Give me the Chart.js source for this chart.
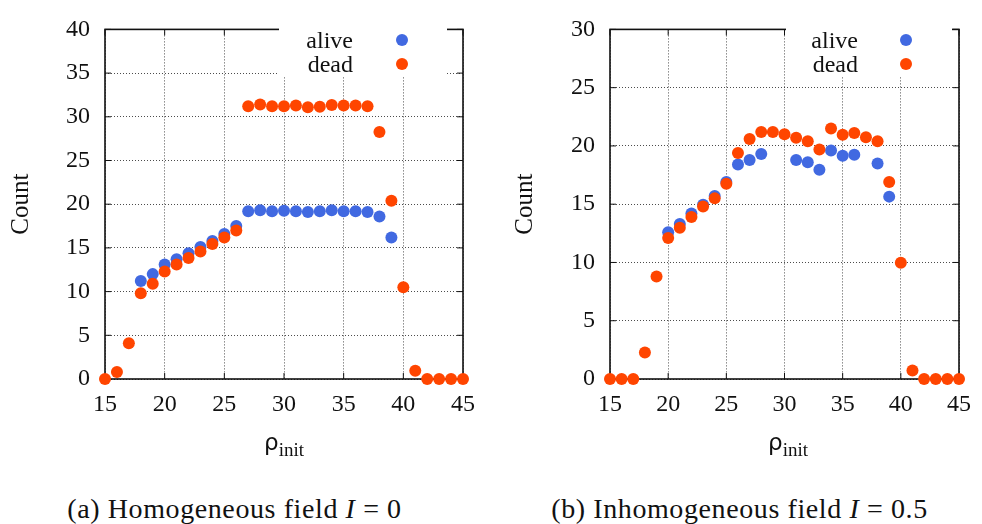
<!DOCTYPE html>
<html>
<head>
<meta charset="utf-8">
<script src="https://cdn.jsdelivr.net/npm/chart.js@4.4.1/dist/chart.umd.min.js"></script>
<style>
	body { margin: 0; width: 982px; height: 524px; background: #fff; position: relative; overflow: hidden; font-family: "Liberation Serif", serif; color: #111; }
	.panel { position: absolute; top: 0; width: 491px; height: 524px; }
	.panel canvas { position: absolute; top: 0; left: 0; }
	.legend { position: absolute; top: 23px; height: 53px; background: #fff; }
	.legend .row { position: absolute; left: 0; height: 24px; line-height: 24px; font-size: 24px; }
	.legend .lbl { position: absolute; text-align: right; width: 120px; }
	.legend .dot { position: absolute; width: 12px; height: 12px; border-radius: 6px; top: 6px; }
	.xtitle { position: absolute; top: 428px; font-size: 25px; width: 120px; text-align: center; }
	.xtitle .rho { font-family: "DejaVu Sans", sans-serif; font-size: 23px; }
	.xtitle sub { font-size: 19px; vertical-align: -6px; }
	.caption { position: absolute; top: 493px; font-size: 28px; letter-spacing: 0.6px; white-space: nowrap; width: 491px; text-align: center; }
</style>
</head>
<body>
<div class="panel" style="left:0">
	<canvas id="chartA" width="491" height="430"></canvas>
	<div class="legend" style="left:279px; width:168px">
		<div class="row" style="top:5px"><span class="lbl" style="left:-46px">alive</span><span class="dot" style="left:117px; background:#4169e1"></span></div>
		<div class="row" style="top:29px"><span class="lbl" style="left:-46px">dead</span><span class="dot" style="left:117px; background:#ff4500"></span></div>
	</div>
	<div class="xtitle" style="left:224px"><span class="rho">ρ</span><sub>init</sub></div>
	<div class="caption" style="left:-11px">(a) Homogeneous field <i>I</i> = 0</div>
</div>
<div class="panel" style="left:491px">
	<canvas id="chartB" width="491" height="430"></canvas>
	<div class="legend" style="left:295px; width:166px">
		<div class="row" style="top:5px"><span class="lbl" style="left:-48px">alive</span><span class="dot" style="left:114px; background:#4169e1"></span></div>
		<div class="row" style="top:29px"><span class="lbl" style="left:-48px">dead</span><span class="dot" style="left:114px; background:#ff4500"></span></div>
	</div>
	<div class="xtitle" style="left:237px"><span class="rho">ρ</span><sub>init</sub></div>
	<div class="caption" style="left:3px">(b) Inhomogeneous field <i>I</i> = 0.5</div>
</div>
<script>
// initial density values on the x axis
const rho = [15, 16, 17, 18, 19, 20, 21, 22, 23, 24, 25, 26, 27, 28, 29, 30,
	31, 32, 33, 34, 35, 36, 37, 38, 39, 40, 41, 42, 43, 44, 45];

// (a) homogeneous field
const aliveHom = [null, null, null, 11.2, 12.0, 13.1, 13.7, 14.4, 15.1, 15.8, 16.6, 17.5, 19.2, 19.3, 19.2, 19.25,
	19.2, 19.1, 19.2, 19.3, 19.2, 19.2, 19.1, 18.6, 16.2, null, null, null, null, null, null];
const deadHom = [0, 0.8, 4.1, 9.8, 10.9, 12.3, 13.1, 13.85, 14.6, 15.45, 16.2, 17.0, 31.2, 31.4, 31.2, 31.2,
	31.3, 31.1, 31.15, 31.35, 31.3, 31.3, 31.2, 28.25, 20.4, 10.5, 0.95, 0, 0, 0, 0];

// (b) inhomogeneous field
const aliveInh = [null, null, null, null, null, 12.6, 13.3, 14.2, 14.95, 15.7, 16.9, 18.4, 18.8, 19.3, null, null,
	18.8, 18.6, 17.95, 19.6, 19.15, 19.25, null, 18.5, 15.65, null, null, null, null, null, null];
const deadInh = [0, 0, 0, 2.27, 8.8, 12.1, 12.97, 13.9, 14.8, 15.5, 16.75, 19.4, 20.6, 21.2, 21.2, 21.0,
	20.7, 20.4, 19.7, 21.5, 20.95, 21.1, 20.75, 20.4, 16.9, 9.97, 0.73, 0, 0, 0, 0];

const xTicks = [15, 20, 25, 30, 35, 40, 45];
const yTicksHom = [0, 5, 10, 15, 20, 25, 30, 35, 40];
const yTicksInh = [0, 5, 10, 15, 20, 25, 30];

Chart.defaults.font.family = "Liberation Serif";
Chart.defaults.font.size = 24;
Chart.defaults.color = "#111";

function toPoints(ys) {
	const pts = [];
	ys.forEach(function (y, i) {
		if (y !== null) pts.push({ x: rho[i], y: y });
	});
	return pts;
}

// frame + inward ticks, gnuplot style
const framePlugin = {
	id: "frame",
	beforeDatasetsDraw(chart) {
		const { ctx, chartArea: a, scales } = chart;
		ctx.save();
		ctx.strokeStyle = "#111";
		ctx.lineWidth = 1;
		ctx.beginPath();
		scales.x.ticks.forEach(function (t) {
			const px = scales.x.getPixelForValue(t.value);
			ctx.moveTo(px, a.bottom); ctx.lineTo(px, a.bottom - 6);
			ctx.moveTo(px, a.top); ctx.lineTo(px, a.top + 6);
		});
		scales.y.ticks.forEach(function (t) {
			const py = scales.y.getPixelForValue(t.value);
			ctx.moveTo(a.left, py); ctx.lineTo(a.left + 6, py);
			ctx.moveTo(a.right, py); ctx.lineTo(a.right - 6, py);
		});
		ctx.stroke();
		ctx.lineWidth = 1.6;
		ctx.strokeRect(a.left, a.top, a.right - a.left, a.bottom - a.top);
		ctx.restore();
	}
};

function makeChart(id, alive, dead, yTicks, yWidth, padRight, titlePad) {
	return new Chart(document.getElementById(id), {
		type: "scatter",
		data: {
			datasets: [
				{ label: "alive", data: toPoints(alive), backgroundColor: "#4169e1", pointRadius: 6, pointBorderWidth: 0, clip: false, order: 1 },
				{ label: "dead", data: toPoints(dead), backgroundColor: "#ff4500", pointRadius: 6, pointBorderWidth: 0, clip: false, order: 0 }
			]
		},
		options: {
			responsive: false,
			animation: false,
			layout: { padding: { left: 0, top: 22, right: padRight, bottom: 0 } },
			plugins: { legend: { display: false }, tooltip: { enabled: false } },
			scales: {
				x: {
					type: "linear",
					min: xTicks[0],
					max: xTicks[xTicks.length - 1],
					afterBuildTicks: function (s) { s.ticks = xTicks.map(v => ({ value: v })); },
					afterFit: function (s) { s.height = 51; },
					grid: { color: "rgba(0,0,0,0.7)", lineWidth: 1, drawTicks: false },
					border: { display: false, dash: [1, 2] },
					ticks: { padding: 11, maxRotation: 0 }
				},
				y: {
					min: yTicks[0],
					max: yTicks[yTicks.length - 1],
					afterBuildTicks: function (s) { s.ticks = yTicks.map(v => ({ value: v })); },
					afterFit: function (s) { s.width = yWidth; },
					grid: { color: "rgba(0,0,0,0.7)", lineWidth: 1, drawTicks: false },
					border: { display: false, dash: [1, 2] },
					ticks: { padding: 15 },
					title: { display: true, text: "Count", font: { size: 25 }, padding: { top: titlePad } }
				}
			}
		},
		plugins: [framePlugin]
	});
}

makeChart("chartA", aliveHom, deadHom, yTicksHom, 105, 28, 6);
makeChart("chartB", aliveInh, deadInh, yTicksInh, 119, 15, 19);
</script>
</body>
</html>
